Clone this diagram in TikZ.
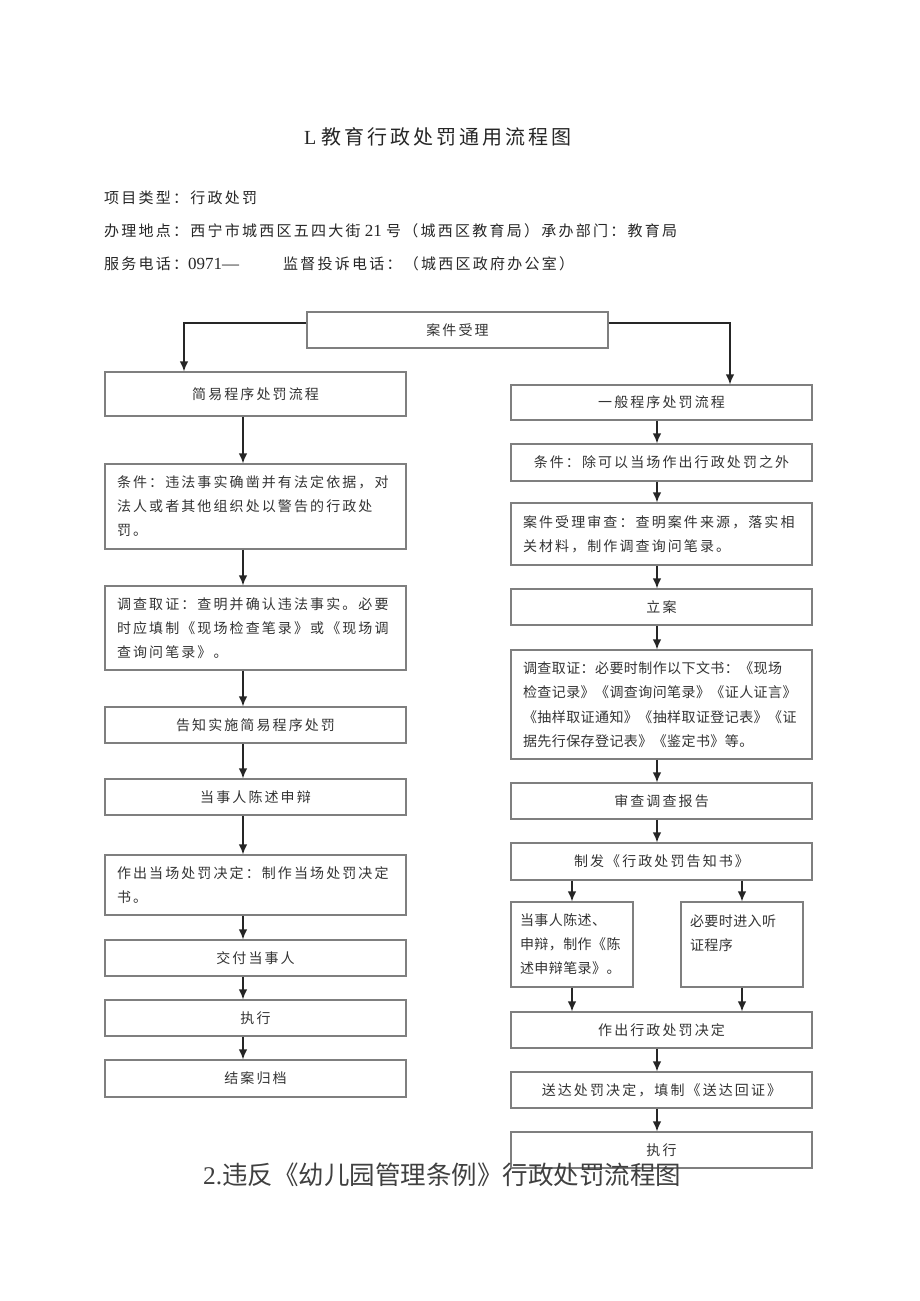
\documentclass[tikz,border=0pt]{standalone}
\usepackage{fontspec}
\setmainfont{Liberation Serif}
\newfontfamily\cjkbox[LetterSpace=15]{Noto Sans CJK SC}
\newfontfamily\cjknarrow[LetterSpace=3]{Noto Sans CJK SC}
\newfontfamily\cjkhead[LetterSpace=15]{Noto Sans CJK SC}
\newfontfamily\cjkplain{Noto Sans CJK SC}
\usetikzlibrary{arrows.meta}

\definecolor{frame}{HTML}{7F7F7F}
\definecolor{ink}{HTML}{333333}
\tikzset{
  stage/.style={draw=frame, line width=1.1pt, inner xsep=12pt, inner ysep=0pt,
    text width=277pt, align=center, text=ink, font=\cjkbox\fontsize{14}{24}\selectfont},
  note/.style={stage, align=left},
  subnote/.style={note, text width=104pt, inner xsep=9pt, font=\cjknarrow\fontsize{14}{24}\selectfont},
  flow/.style={-{Latex[length=10pt,width=8.5pt]}, line width=1.6pt, color=black!85},
  head/.style={anchor=west, inner sep=0pt, text=black!85, font=\cjkhead\fontsize{15}{18}\selectfont}
}

\begin{document}
\begin{tikzpicture}[x=1pt,y=-1pt]
\useasboundingbox (0,0) rectangle (920,1301);
% heading
\node[head, font=\cjkhead\fontsize{20}{24}\selectfont] (title) at (304,137) {{\rmfamily L}\hspace{5pt}教育行政处罚通用流程图};
\node[head] (kind) at (104,198) {项目类型：行政处罚};
\node[head] (place) at (104,231) {办理地点：西宁市城西区五四大街{\rmfamily\fontsize{17}{18}\selectfont\ 21\ }号（城西区教育局）承办部门：教育局};
\node[head] (tel) at (104,264) {服务电话：{\rmfamily\fontsize{17}{18}\selectfont 0971—}};
\node[head] (tel2) at (283,264) {监督投诉电话：（城西区政府办公室）};

\node[stage, minimum height=36pt] (accept) at (457.5,330) {案件受理};

% simple procedure
\node[stage, minimum height=44pt] (simple) at (255.5,394) {简易程序处罚流程};
\node[note, minimum height=85pt] (lcond) at (255.5,506.5) {条件：违法事实确凿并有法定依据，对\\法人或者其他组织处以警告的行政处\\罚。};
\node[note, minimum height=84pt] (lprobe) at (255.5,628) {调查取证：查明并确认违法事实。必要\\时应填制《现场检查笔录》或《现场调\\查询问笔录》。};
\node[stage, minimum height=36pt] (inform) at (255.5,725) {告知实施简易程序处罚};
\node[stage, minimum height=36pt] (plead) at (255.5,797) {当事人陈述申辩};
\node[note, minimum height=60pt] (spot) at (255.5,885) {作出当场处罚决定：制作当场处罚决定\\书。};
\node[stage, minimum height=36pt] (handover) at (255.5,958) {交付当事人};
\node[stage, minimum height=36pt] (lexec) at (255.5,1018) {执行};
\node[stage, minimum height=37pt] (archive) at (255.5,1078.5) {结案归档};

% general procedure
\node[stage, minimum height=35pt] (general) at (661.5,402.5) {一般程序处罚流程};
\node[stage, minimum height=37pt] (rcond) at (661.5,462.5) {条件：除可以当场作出行政处罚之外};
\node[note, minimum height=62pt] (review) at (661.5,534) {案件受理审查：查明案件来源，落实相\\关材料，制作调查询问笔录。};
\node[stage, minimum height=36pt] (register) at (661.5,607) {立案};
\node[note, minimum height=109pt, font=\cjknarrow\fontsize{14}{24.5}\selectfont] (rprobe) at (661.5,704.5) {调查取证：必要时制作以下文书：《现场\\检查记录》《调查询问笔录》《证人证言》\\《抽样取证通知》《抽样取证登记表》《证\\据先行保存登记表》《鉴定书》等。};
\node[stage, minimum height=36pt] (report) at (661.5,801) {审查调查报告};
\node[stage, minimum height=37pt] (notice) at (661.5,861.5) {制发《行政处罚告知书》};
\node[subnote, minimum height=85pt] (state) at (572,944.5) {当事人陈述、\\申辩，制作《陈\\述申辩笔录》。};
\node[subnote, minimum height=85pt] (hearing) at (742,944.5) {必要时进入听\\证程序\\\mbox{}};
\node[stage, minimum height=36pt] (rdecide) at (661.5,1030) {作出行政处罚决定};
\node[stage, minimum height=36pt] (serve) at (661.5,1090) {送达处罚决定，填制《送达回证》};
\node[stage, minimum height=36pt] (rexec) at (661.5,1150) {执行};

\node[anchor=west, inner sep=0pt, text=black!75, font=\cjkplain\fontsize{25.5}{30}\selectfont] (next) at (203,1175) {{\rmfamily 2.}违反《幼儿园管理条例》行政处罚流程图};

% connectors
\coordinate (lx) at (243,0);
\coordinate (rx) at (657,0);
\coordinate (lturn) at (184,0);
\coordinate (rturn) at (730,0);
\draw[flow] ([yshift=7pt]accept.west) -| (lturn |- simple.north);
\draw[flow] ([yshift=7pt]accept.east) -| (rturn |- general.north);
\foreach \a/\b in {simple/lcond, lcond/lprobe, lprobe/inform, inform/plead, plead/spot, spot/handover, handover/lexec, lexec/archive}
  \draw[flow] (\a.south -| lx) -- (\b.north -| lx);
\foreach \a/\b in {general/rcond, rcond/review, review/register, register/rprobe, rprobe/report, report/notice, rdecide/serve, serve/rexec}
  \draw[flow] (\a.south -| rx) -- (\b.north -| rx);
\draw[flow] (notice.south -| state.north) -- (state.north);
\draw[flow] (notice.south -| hearing.north) -- (hearing.north);
\draw[flow] (state.south) -- (state.south |- rdecide.north);
\draw[flow] (hearing.south) -- (hearing.south |- rdecide.north);
\end{tikzpicture}
\end{document}
